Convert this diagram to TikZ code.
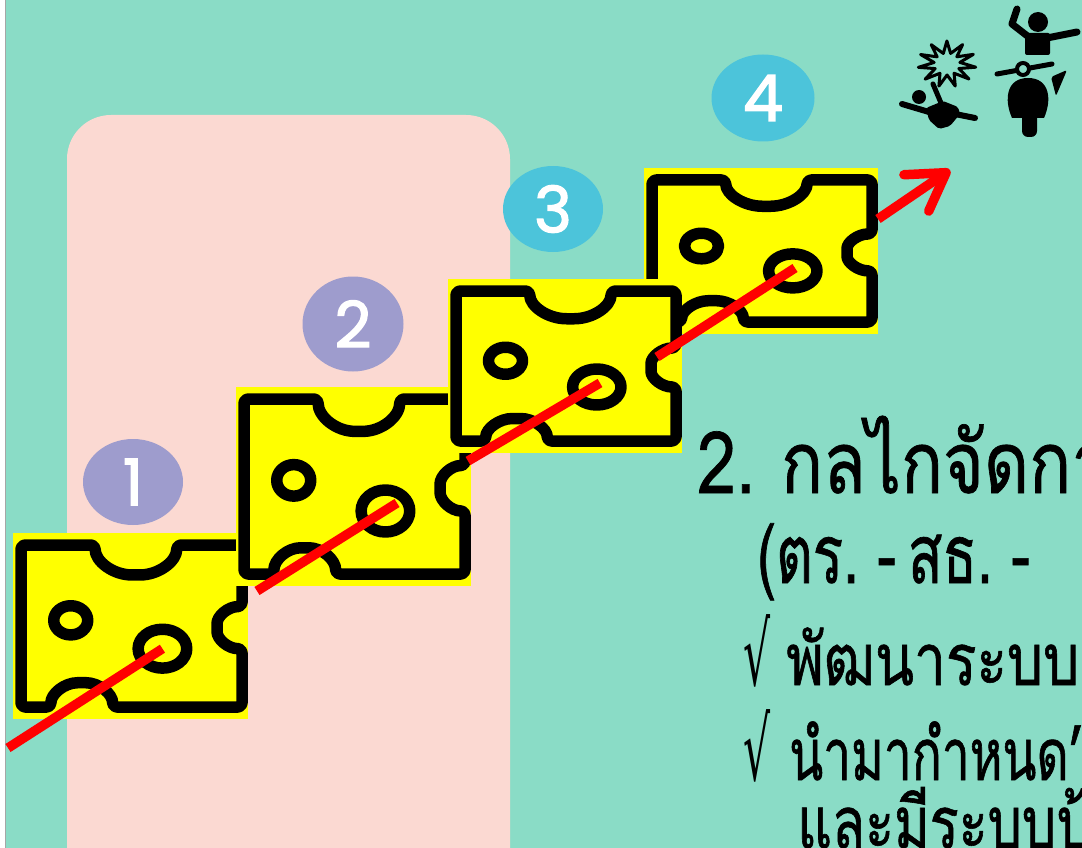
\documentclass[tikz,border=0pt]{standalone}
\usepackage{fontspec}
\newfontfamily\thaifont[Script=Thai, FakeStretch=0.81, FakeBold=0.8]{Loma}
\newfontfamily\thainarrow[Script=Thai, FakeStretch=0.69, FakeBold=0.8]{Loma}
\newfontfamily\thaibody[Script=Thai, FakeStretch=0.75, FakeBold=0.8]{Loma}
\newfontfamily\thaiwide[Script=Thai, FakeStretch=0.79, FakeBold=0.8]{Loma}
\newfontfamily\numfont[FakeBold=2]{Poppins}
\newfontfamily\symfont{DejaVu Sans}
\usetikzlibrary{arrows.meta,shapes.geometric}

\definecolor{sea}{HTML}{8ADCC6}
\definecolor{blush}{HTML}{FBD9D2}
\definecolor{lavender}{HTML}{9E9CCD}
\definecolor{skyblue}{HTML}{4CC4DA}
\definecolor{cheese}{HTML}{FFFF00}
\definecolor{path}{HTML}{FF0000}

% tall thin check mark used in front of the bullet lines
\newcommand\tick{\scalebox{0.85}[1.75]{\symfont\fontsize{50}{50}\selectfont √}}

% one slice of swiss cheese: name, left, top, width, height of the rind line
\newcommand\cheeseslice[5]{%
  \pgfmathsetmacro\cL{#2}\pgfmathsetmacro\cT{#3}%
  \pgfmathsetmacro\cR{#2+#4}\pgfmathsetmacro\cB{#3+#5}%
  \pgfmathsetmacro\nTx{#2+0.52*#4}\pgfmathsetmacro\nTw{0.185*#4}\pgfmathsetmacro\nTd{0.185*#5}%
  \pgfmathsetmacro\nRy{#3+0.51*#5}\pgfmathsetmacro\nRh{0.13*#5}\pgfmathsetmacro\nRd{25}%
  \pgfmathsetmacro\nBx{#2+0.275*#4}\pgfmathsetmacro\nBw{0.14*#4}\pgfmathsetmacro\nBd{0.15*#5}%
  \pgfmathsetmacro\hSy{0.09*#5}\pgfmathsetmacro\hBx{0.11*#4}\pgfmathsetmacro\hBy{0.12*#5}%
  \fill[cheese] ({#2-8},{#3-12}) rectangle ({#2+#4+6},{#3+#5+12});
  \draw[rind] (\cL,\cT) -- ({\nTx-\nTw},\cT)
    .. controls ({\nTx-\nTw},{\cT+0.552*\nTd}) and ({\nTx-0.552*\nTw},{\cT+\nTd}) .. ({\nTx},{\cT+\nTd})
    .. controls ({\nTx+0.552*\nTw},{\cT+\nTd}) and ({\nTx+\nTw},{\cT+0.552*\nTd}) .. ({\nTx+\nTw},\cT)
    -- (\cR,\cT) -- (\cR,{\nRy-\nRh})
    .. controls ({\cR-0.552*\nRd},{\nRy-\nRh}) and ({\cR-\nRd},{\nRy-0.552*\nRh}) .. ({\cR-\nRd},\nRy)
    .. controls ({\cR-\nRd},{\nRy+0.552*\nRh}) and ({\cR-0.552*\nRd},{\nRy+\nRh}) .. (\cR,{\nRy+\nRh})
    -- (\cR,\cB) -- ({\nBx+\nBw},\cB)
    .. controls ({\nBx+\nBw},{\cB-0.552*\nBd}) and ({\nBx+0.552*\nBw},{\cB-\nBd}) .. (\nBx,{\cB-\nBd})
    .. controls ({\nBx-0.552*\nBw},{\cB-\nBd}) and ({\nBx-\nBw},{\cB-0.552*\nBd}) .. ({\nBx-\nBw},\cB)
    -- (\cL,\cB) -- cycle;
  \draw[rind] ({#2+0.225*#4},{#3+0.465*#5}) ellipse [x radius=17pt, y radius=\hSy pt];
  \coordinate (#1-hole) at ({#2+0.64*#4},{#3+0.64*#5});
  \draw[rind] (#1-hole) ellipse [x radius=\hBx pt, y radius=\hBy pt];
}

\begin{document}
\begin{tikzpicture}[x=1pt,y=-1pt,
  rind/.style={draw=black, line width=11.5pt, line join=round, rounded corners=4pt},
  route/.style={draw=path, line width=9.5pt},
  disc/.style={ellipse, inner sep=0pt, text=white, font=\numfont\fontsize{64}{64}\selectfont},
  thaitxt/.style={anchor=base west, inner sep=0pt, text=black},
  limb/.style={line width=6pt, line cap=round, line join=round},
]
\useasboundingbox (0,0) rectangle (1082,848);
\clip (0,0) rectangle (1082,848);

% backdrop
\fill[sea] (0,0) rectangle (1082,848);
\fill[white] (0,0) rectangle (5,848);
\draw[black!35, line width=1.5pt] (5.5,0) -- (5.5,848);
\fill[blush, rounded corners=44pt] (67,115) rectangle (510,900);

% numbered layers
\node[disc, fill=lavender, minimum width=100pt, minimum height=86pt] (n1) at (133,482) {1};
\node[disc, fill=lavender, minimum width=101pt, minimum height=95pt] (n2) at (353,324) {2};
\node[disc, fill=skyblue, minimum width=100pt, minimum height=86pt] (n3) at (553,209) {3};
\node[disc, fill=skyblue, minimum width=103pt, minimum height=87pt] (n4) at (763,98) {4};

% cheese slices, later ones stacked on top
\cheeseslice{s4}{652}{180}{220}{142}
\cheeseslice{s1}{21}{545}{221}{162}
\cheeseslice{s2}{244}{399}{221}{175}
\cheeseslice{s3}{456}{291}{220}{150}

% the hazard trajectory through the holes
\coordinate (r0) at (8,748);
\coordinate (r1) at (257,591);
\coordinate (h2) at (397,503);
\coordinate (r2) at (468,461);
\coordinate (h3) at (600,383);
\coordinate (r3) at (657,357);
\coordinate (h4) at (795,268);
\coordinate (r4) at (878,219);
\coordinate (tip) at (950,170);
\draw[route] (r0) -- (s1-hole);
\draw[route] (r1) -- (h2);
\draw[route] (r2) -- (h3);
\draw[route] (r3) -- (h4);
\draw[route, -{Straight Barb[length=36pt,width=44pt,line cap=round,line join=round]}] (r4) -- (tip);

% accident pictograms: burst and falling pedestrian
\draw[line width=3pt, line join=round, fill=sea]
  plot[samples at={0,...,21}, variable=\k]
  ({947+(mod(\k,2)==0 ? 29 : 13)*cos(\k*360/22+8)}, {64+(mod(\k,2)==0 ? 23 : 11)*sin(\k*360/22+8)}) -- cycle;
\fill (919,97) circle[radius=7pt];
\draw[limb] (902,104) -- (929,112);
\draw[limb, line width=5pt] (941,103) -- (933,84);
\fill[rounded corners=2pt] (926,108) -- (943,101) -- (958,107) -- (960,114) -- (950,126) -- (939,129) -- (929,120) -- cycle;
\draw[limb] (955,114) -- (975,118);
% rider on a motorbike
\fill (1038,22) circle[radius=10pt];
\draw[limb, line width=7pt] (1017,9) -- (1012,24) -- (1030,38);
\draw[limb, line width=7pt] (1047,38) -- (1077,32);
\fill[rounded corners=2pt] (1025,33) rectangle (1050,55);
\draw[limb, line width=5pt] (997,74) -- (1052,64);
\fill (1012,118) .. controls (1004,100) and (1006,78) .. (1028,78) .. controls (1050,78) and (1052,100) .. (1044,118) -- cycle;
\fill[rounded corners=6pt] (1022,100) rectangle (1037,137);
\draw[line width=4pt, fill=sea] (1023,69) circle[radius=6pt];
\fill[rounded corners=2pt] (1051,77) -- (1067,70) -- (1056,96) -- cycle;

% text column
\node[thaitxt, font=\thaifont\fontsize{86}{90}\selectfont] (t1) at (697,493) {\spaceskip=18pt 2. กลไกจัดกา};
\node[thaitxt, font=\thainarrow\fontsize{82}{90}\selectfont] (t2) at (757,583) {\spaceskip=12pt (ตร. - สธ. -};
\node[thaitxt, font=\thaiwide\fontsize{72}{76}\selectfont] (t3) at (743,685) {\spaceskip=16pt \tick{} พัฒนาระบบ};
\node[thaitxt, font=\thainarrow\fontsize{72}{76}\selectfont] (t4) at (743,780) {\spaceskip=19pt \tick{} นำมากำหนด’};
\node[thaitxt, font=\thaibody\fontsize{72}{76}\selectfont] (t5) at (797,848) {และมีระบบป้};
\end{tikzpicture}
\end{document}
